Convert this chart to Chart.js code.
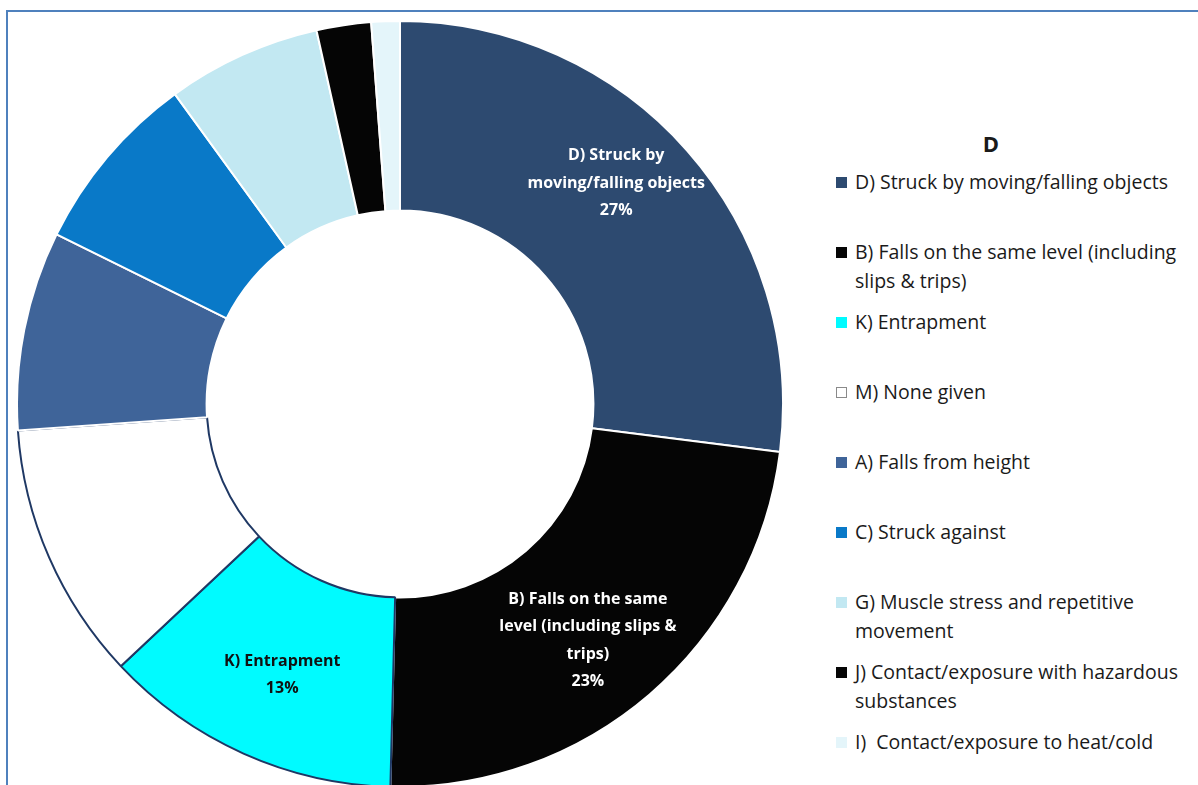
<!DOCTYPE html>
<html>
<head>
<meta charset="utf-8">
<script src="https://cdn.jsdelivr.net/npm/chart.js@4.4.1/dist/chart.umd.min.js"></script>
<style>
  html, body { margin: 0; padding: 0; width: 1198px; height: 785px; overflow: hidden; background: #fff; }
  #frame { position: absolute; left: 6px; top: 10px; width: 1300px; height: 900px;
           border-top: 2px solid #4f81bd; border-left: 2px solid #4f81bd; }
  #chart { position: absolute; left: 16px; top: 20px; }
  #legend { position: absolute; left: 836px; top: 126px; width: 362px;
            font-family: "Open Sans", sans-serif; color: #1a1a1a; }
  #legend h3 { margin: 0; width: 310px; text-align: center; font-size: 22px; font-weight: bold; height: 42px; line-height: 34px; }
  .item { height: 70px; display: flex; align-items: flex-start; }
  .box { width: 11px; height: 11px; margin-top: 9px; margin-right: 8px; flex: none; box-sizing: border-box; }
  .txt { font-size: 19.5px; line-height: 29px; white-space: pre-wrap; width: 340px; margin-top: -1px; }
</style>
</head>
<body>
<div id="frame"></div>
<canvas id="chart" width="768" height="768"></canvas>
<div id="legend"><h3>D</h3></div>
<script>
const categories = [
  'D) Struck by moving/falling objects',
  'B) Falls on the same level (including slips & trips)',
  'K) Entrapment',
  'M) None given',
  'A) Falls from height',
  'C) Struck against',
  'G) Muscle stress and repetitive movement',
  'J) Contact/exposure with hazardous substances',
  'I)  Contact/exposure to heat/cold'
];
const shares = [27.0, 23.4, 12.6, 10.9, 8.4, 7.7, 6.5, 2.3, 1.2];
const colors = ['#2d4a70', '#050505', '#00fbff', '#ffffff', '#3f6499', '#0979c8', '#c2e8f2', '#050505', '#e4f5fa'];
const edges = ['#ffffff', '#ffffff', '#1f3864', '#1f3864', '#ffffff', '#ffffff', '#ffffff', '#ffffff', '#ffffff'];

// labels written on the ring: [lines, text colour, vertical nudge]
const sliceLabels = {
  0: { lines: ['D) Struck by', 'moving/falling objects'], color: '#ffffff', dy: -30 },
  1: { lines: ['B) Falls on the same', 'level (including slips &', 'trips)'], color: '#ffffff', dy: 18 },
  2: { lines: ['K) Entrapment'], color: '#111111', dy: 8 }
};

const total = shares.reduce((a, b) => a + b, 0);

const ringText = {
  id: 'ringText',
  afterDatasetsDraw(chart) {
    const ctx = chart.ctx;
    const meta = chart.getDatasetMeta(0);
    ctx.save();
    ctx.font = 'bold 16px "Open Sans", sans-serif';
    ctx.textAlign = 'center';
    ctx.textBaseline = 'middle';
    Object.keys(sliceLabels).forEach(k => {
      const i = +k;
      const cfg = sliceLabels[i];
      const p = meta.data[i].getCenterPoint();
      const lines = cfg.lines.concat([Math.round(shares[i] / total * 100) + '%']);
      const lh = 27.5;
      const y0 = p.y + cfg.dy - (lines.length - 1) * lh / 2;
      ctx.fillStyle = cfg.color;
      lines.forEach((t, j) => ctx.fillText(t, p.x, y0 + j * lh));
    });
    ctx.restore();
  }
};

new Chart(document.getElementById('chart'), {
  type: 'doughnut',
  data: {
    labels: categories,
    datasets: [{
      data: shares,
      backgroundColor: colors,
      borderColor: edges,
      borderWidth: 2,
      hoverOffset: 0
    }]
  },
  options: {
    responsive: false,
    animation: false,
    cutout: '50.5%',
    layout: { padding: 0 },
    plugins: { legend: { display: false }, tooltip: { enabled: false } }
  },
  plugins: [ringText]
});

const legend = document.getElementById('legend');
categories.forEach((c, i) => {
  const item = document.createElement('div');
  item.className = 'item';
  const box = document.createElement('div');
  box.className = 'box';
  box.style.background = colors[i];
  box.style.border = '1px solid ' + (colors[i] === '#ffffff' ? '#8a8a8a' : colors[i]);
  const txt = document.createElement('div');
  txt.className = 'txt';
  txt.textContent = c;
  item.appendChild(box);
  item.appendChild(txt);
  legend.appendChild(item);
});
</script>
</body>
</html>
